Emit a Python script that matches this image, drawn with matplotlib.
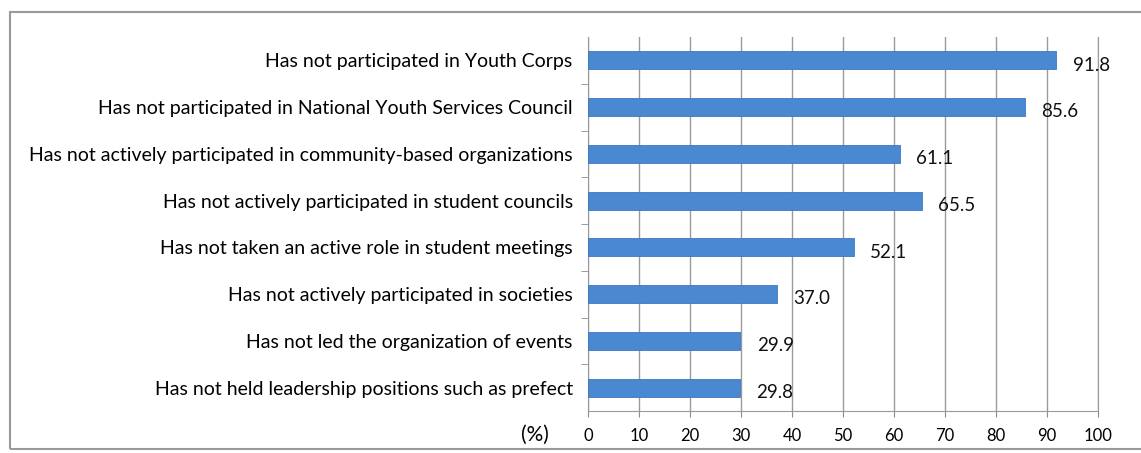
import matplotlib
matplotlib.use("Agg")
import matplotlib.pyplot as plt
from matplotlib.patches import Rectangle

categories = [
    "Has not participated in Youth Corps",
    "Has not participated in National Youth Services Council",
    "Has not actively participated in community-based organizations",
    "Has not actively participated in student councils",
    "Has not taken an active role in student meetings",
    "Has not actively participated in societies",
    "Has not led the organization of events",
    "Has not held leadership positions such as prefect",
]
values = [91.8, 85.6, 61.1, 65.5, 52.1, 37.0, 29.9, 29.8]
x_ticks = [0, 10, 20, 30, 40, 50, 60, 70, 80, 90, 100]

plt.rcParams["font.family"] = ["Lato", "DejaVu Sans"]

W, H = 1141, 453
fig = plt.figure(figsize=(W / 100, H / 100), dpi=100)
ax = fig.add_axes([588 / W, 1 - 411 / H, (1098 - 588) / W, (411 - 37) / H])

ypos = list(range(len(categories)))
ax.barh(ypos, values, height=0.38, color="#4A89D2", edgecolor="#3F78BD",
        linewidth=0.6, zorder=3)

for y, v in zip(ypos, values):
    ax.text(v + 3.2, y + 0.1, f"{v:.1f}", va="center", ha="left",
            fontsize=13.5, color="#111111", zorder=4)

ax.set_xlim(0, 100)
ax.set_ylim(len(categories) - 0.5, -0.5)
ax.set_xticks(x_ticks)
ax.set_xticklabels([str(t) for t in x_ticks], fontsize=12)
ax.set_yticks(ypos)
ax.set_yticklabels(categories, fontsize=14)
ax.tick_params(axis="y", length=0, pad=11)
ax.tick_params(axis="x", length=4, color="#8a8a8a", pad=8)

# small separators on the category axis
ax.set_yticks([i + 0.5 for i in range(len(categories) - 1)], minor=True)
ax.tick_params(axis="y", which="minor", length=5, color="#8a8a8a")

ax.grid(axis="x", color="#9a9a9a", linewidth=1.0, zorder=0)
ax.spines["top"].set_visible(False)
ax.spines["right"].set_color("#9a9a9a")
ax.spines["left"].set_color("#9a9a9a")
ax.spines["bottom"].set_color("#9a9a9a")

fig.text(521 / W, 1 - 435 / H, "(%)", fontsize=15, ha="left", va="center")

# outer frame around the chart
fig.patches.append(Rectangle((10 / W, 1 - 449 / H), (W + 5 - 10) / W,
                             (449 - 12) / H, transform=fig.transFigure,
                             fill=False, edgecolor="#9a9a9a", linewidth=1.5))

fig.savefig("out.png", dpi=100)
